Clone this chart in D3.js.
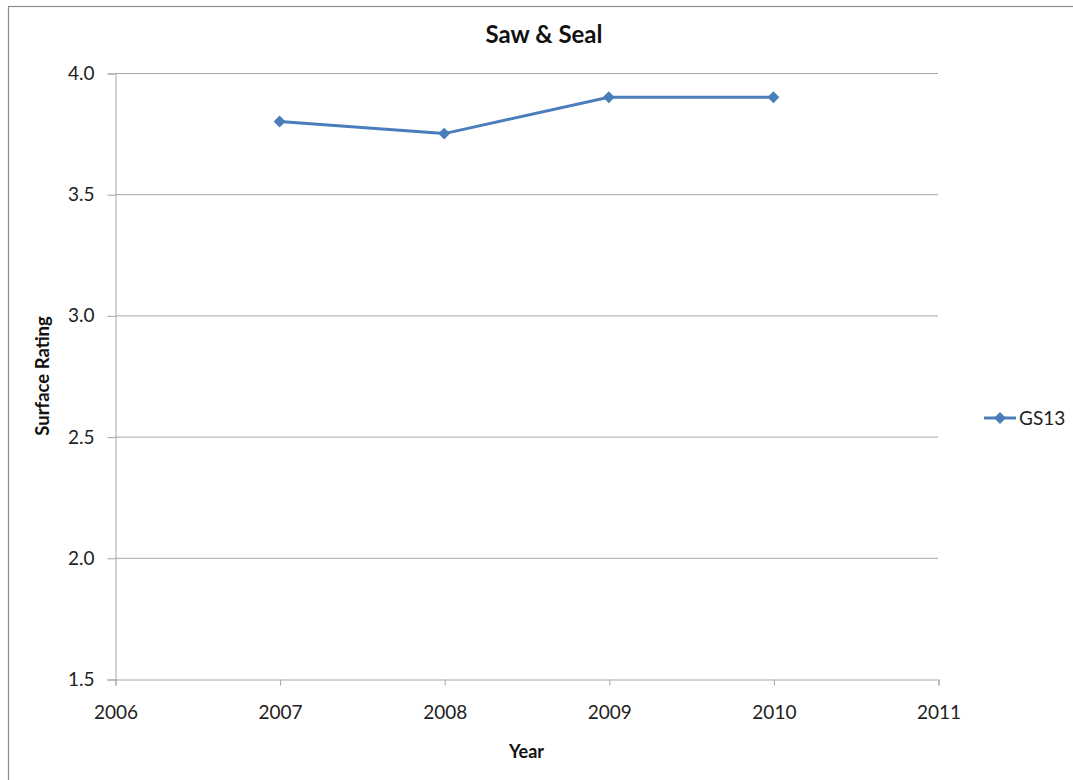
<!DOCTYPE html>
<html><head><meta charset="utf-8">
<script src="https://cdn.jsdelivr.net/npm/d3@7"></script>
<style>html,body{margin:0;padding:0;background:#fff;}svg{display:block;}</style>
</head><body>
<script>
const years = [2007, 2008, 2009, 2010];
const gs13 = [3.8, 3.75, 3.9, 3.9];
const xTicks = [2006, 2007, 2008, 2009, 2010, 2011];
const yTicks = [1.5, 2.0, 2.5, 3.0, 3.5, 4.0];
const seriesName = "GS13";
const title = "Saw & Seal";
const xTitle = "Year";
const yTitle = "Surface Rating";

const W = 1073, H = 780;
const font = "Lato, 'Open Sans', sans-serif";
const svg = d3.select("body").append("svg").attr("width", W).attr("height", H);

// outer chart border
svg.append("rect").attr("x", 8.5).attr("y", 6.5).attr("width", W + 10).attr("height", H + 10)
  .attr("fill", "#fff").attr("stroke", "#8c8c8c").attr("stroke-width", 1.2);

const L = 115, R = 938, T = 73, B = 679;
const x = d3.scaleLinear().domain([2006, 2011]).range([L, R]);
const y = d3.scaleLinear().domain([1.5, 4.0]).range([B, T]);

// gridlines
svg.append("g").selectAll("line").data(yTicks.filter(d => d !== 1.5)).join("line")
  .attr("x1", L).attr("x2", R).attr("y1", d => y(d) + 0.5).attr("y2", d => y(d) + 0.5)
  .attr("stroke", "#a6a6a6").attr("stroke-width", 1);

// y axis
const yAxis = svg.append("g").attr("transform", `translate(${L + 0.5},0.5)`)
  .call(d3.axisLeft(y).tickValues(yTicks).tickFormat(d3.format(".1f")).tickSize(8).tickPadding(13));
yAxis.select(".domain").attr("stroke", "#a6a6a6");
yAxis.selectAll(".tick line").attr("stroke", "#a6a6a6");
yAxis.selectAll("text").attr("font-family", font).attr("font-size", 19).attr("fill", "#222");

// x axis
const xAxis = svg.append("g").attr("transform", `translate(0.5,${B + 0.5})`)
  .call(d3.axisBottom(x).tickValues(xTicks).tickFormat(d3.format("d")).tickSize(6).tickSizeOuter(6).tickPadding(20));
xAxis.select(".domain").attr("stroke", "#a6a6a6");
xAxis.selectAll(".tick line").attr("stroke", "#a6a6a6");
xAxis.selectAll("text").attr("font-family", font).attr("font-size", 19).attr("fill", "#222");

const data = years.map((yr, i) => ({yr, v: gs13[i]}));
const color = "#4a7ebb";

svg.append("path").datum(data)
  .attr("d", d3.line().x(d => x(d.yr)).y(d => y(d.v)))
  .attr("fill", "none").attr("stroke", color).attr("stroke-width", 3).attr("stroke-linejoin", "round");

const diamond = d3.symbol().type(d3.symbolDiamond2).size(90);
svg.append("g").selectAll("path").data(data).join("path")
  .attr("transform", d => `translate(${x(d.yr)},${y(d.v)})`)
  .attr("d", diamond).attr("fill", color);

// title
svg.append("text").attr("x", 544).attr("y", 43).attr("text-anchor", "middle")
  .attr("font-family", font).attr("font-weight", "bold").attr("font-size", 24).attr("fill", "#111").text(title);

// axis titles
svg.append("text").attr("x", (L + R) / 2).attr("y", 758).attr("text-anchor", "middle")
  .attr("font-family", font).attr("font-weight", "bold").attr("font-size", 18).attr("fill", "#111").text(xTitle);
svg.append("text").attr("transform", `translate(49,${(T + B) / 2}) rotate(-90)`).attr("text-anchor", "middle")
  .attr("font-family", font).attr("font-weight", "bold").attr("font-size", 18.5).attr("fill", "#111").text(yTitle);

// legend
const lg = svg.append("g");
lg.append("line").attr("x1", 984).attr("x2", 1016).attr("y1", 418).attr("y2", 418)
  .attr("stroke", color).attr("stroke-width", 3);
lg.append("path").attr("transform", "translate(1000,418)").attr("d", diamond).attr("fill", color);
lg.append("text").attr("x", 1019).attr("y", 425).attr("font-family", font).attr("font-size", 19)
  .attr("fill", "#222").text(seriesName);
</script>
</body></html>
